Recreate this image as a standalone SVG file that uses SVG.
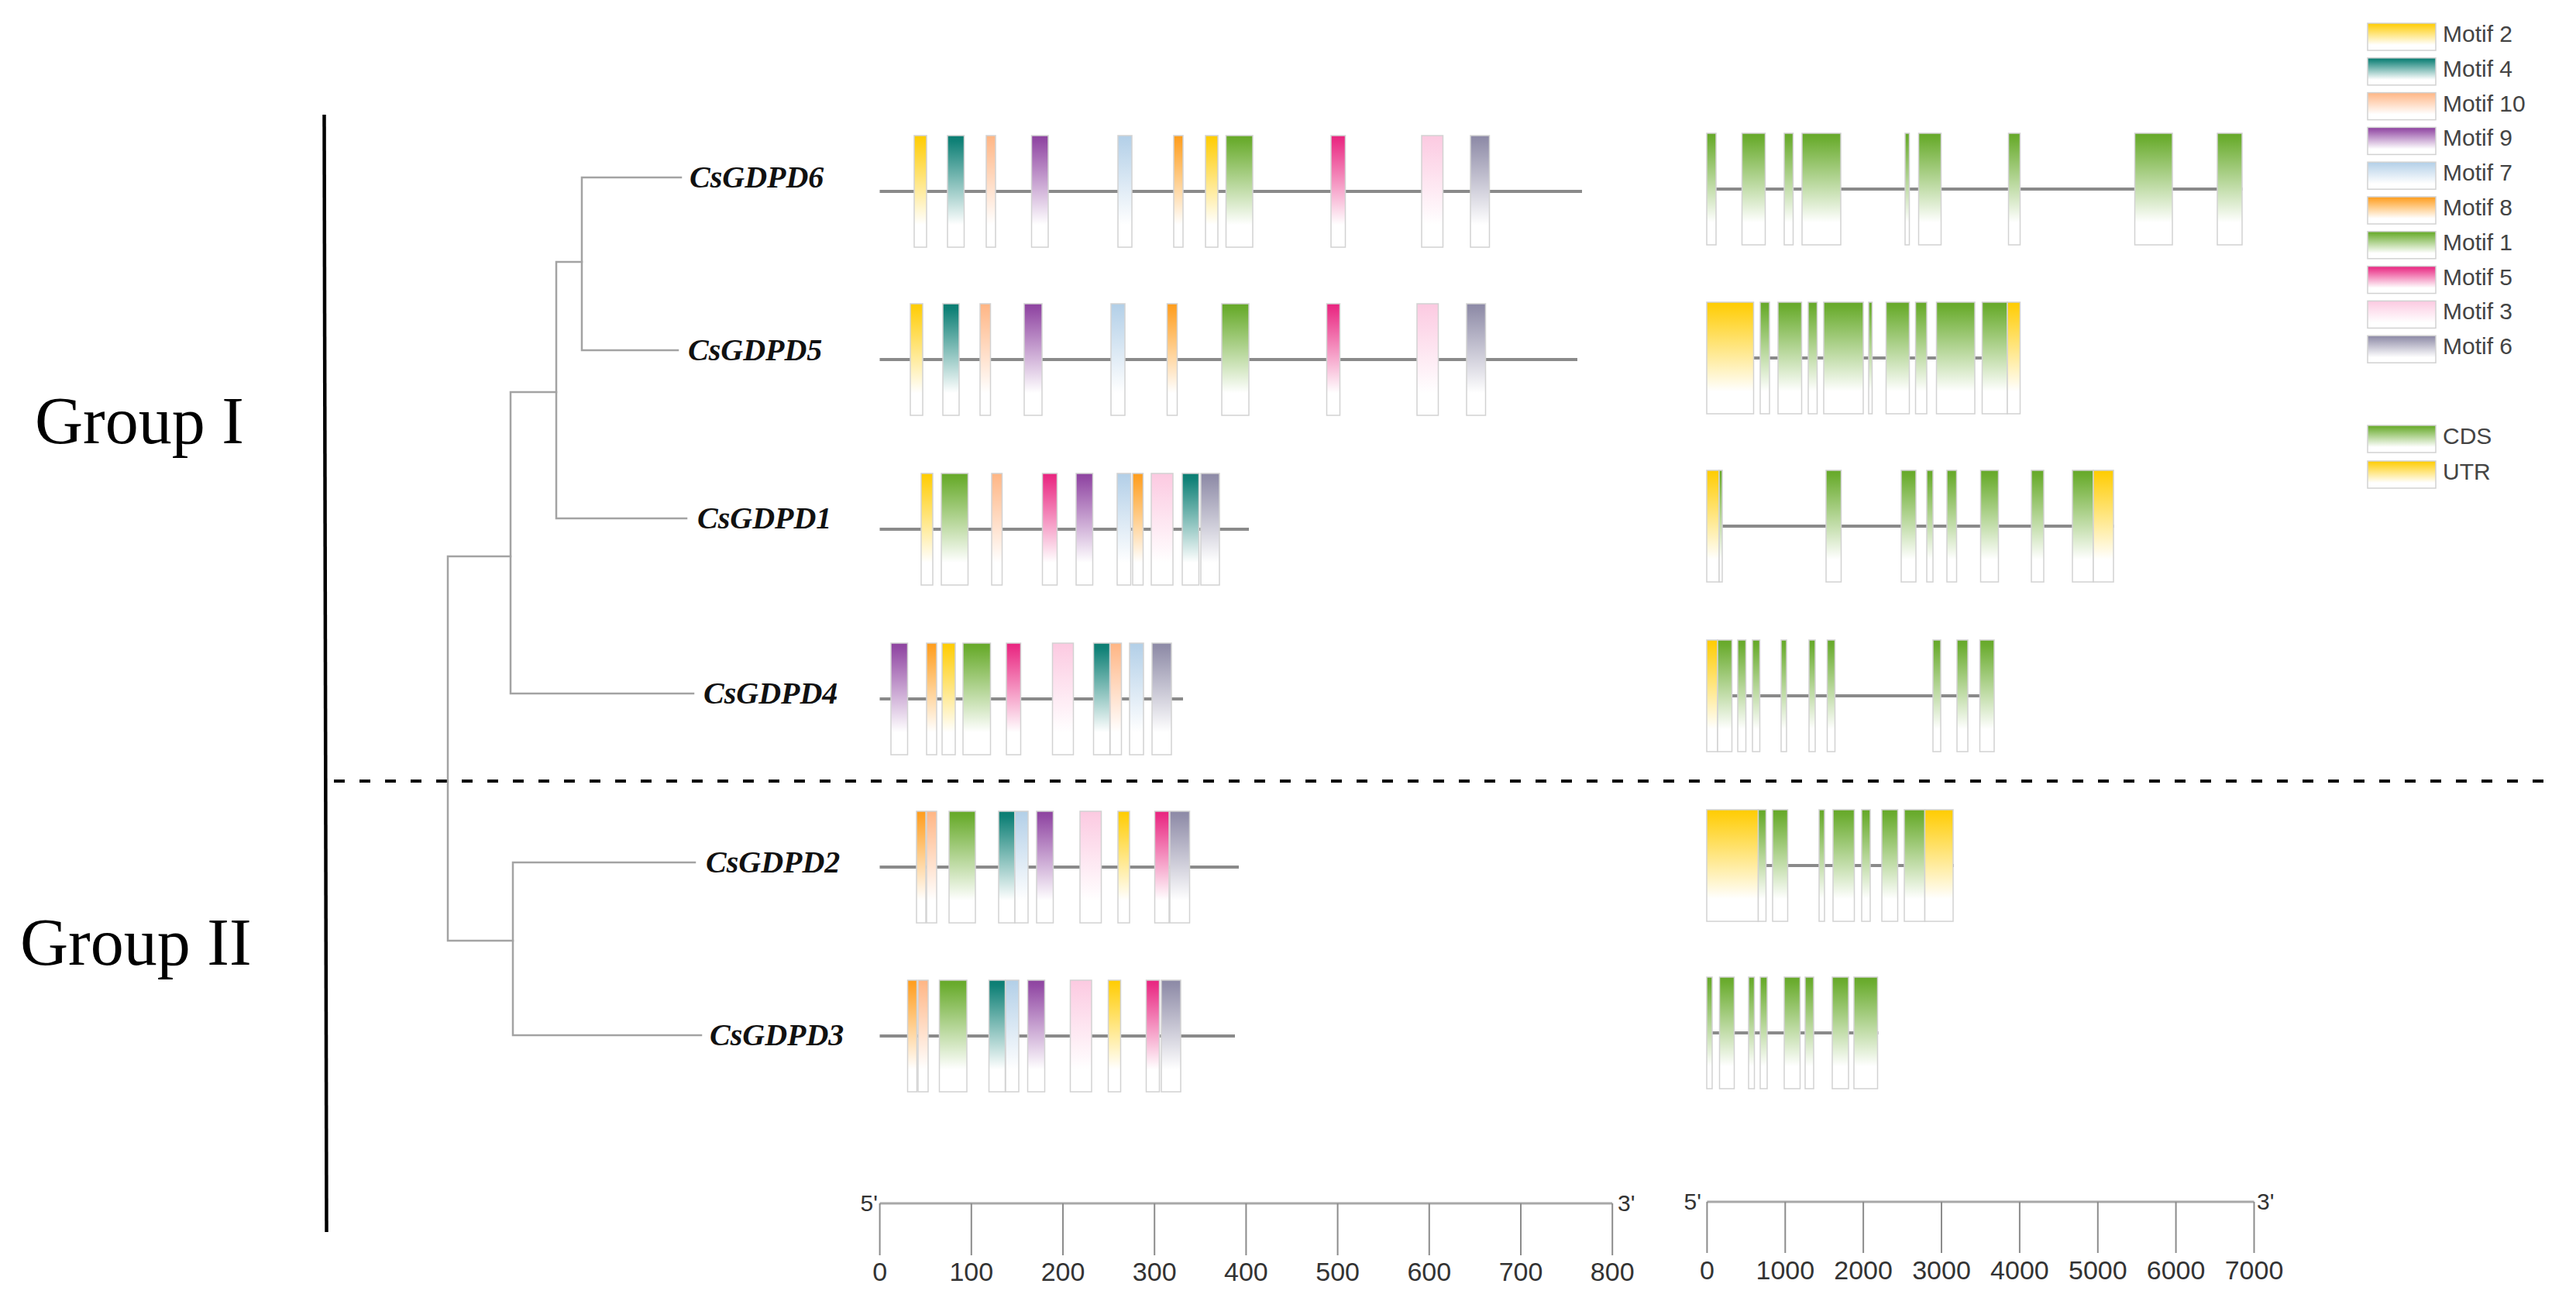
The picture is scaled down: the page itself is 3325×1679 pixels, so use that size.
<svg xmlns="http://www.w3.org/2000/svg" width="3325" height="1679" viewBox="0 0 3325 1679">
<style>
.bg{fill:#ffffff}
.tree{stroke:#a3a3a3;stroke-width:2.5;fill:none;stroke-linecap:square}
.gl{stroke:#8a8a8a;stroke-width:4}
.bx{stroke:#d2d2d2;stroke-width:1.5}
.lbl{font-family:"Liberation Serif","Times New Roman",serif;font-style:italic;font-weight:bold;font-size:40px;fill:#111}
.grp{font-family:"Liberation Serif","Times New Roman",serif;font-size:86px;fill:#000}
.ax{font-family:"Liberation Sans",Arial,sans-serif;font-size:34px;fill:#333}
.end{font-family:"Liberation Sans",Arial,sans-serif;font-size:30px;fill:#333}
.leg{font-family:"Liberation Sans",Arial,sans-serif;font-size:30px;fill:#444}
.sl{stroke:#a8a8a8;stroke-width:3}
.tk{stroke:#8c8c8c;stroke-width:2}
.m1{fill:url(#g1)}.m2{fill:url(#g2)}.m3{fill:url(#g3)}.m4{fill:url(#g4)}.m5{fill:url(#g5)}
.m6{fill:url(#g6)}.m7{fill:url(#g7)}.m8{fill:url(#g8)}.m9{fill:url(#g9)}.m10{fill:url(#g10)}
.cds{fill:url(#g1)}.utr{fill:url(#g2)}
</style>
<defs>
<linearGradient id="g1" x1="0" y1="0" x2="0" y2="1"><stop offset="0" stop-color="#66a829"/><stop offset="0.05" stop-color="#6cad31"/><stop offset="0.8" stop-color="#ffffff"/></linearGradient>
<linearGradient id="g2" x1="0" y1="0" x2="0" y2="1"><stop offset="0" stop-color="#ffcc00"/><stop offset="0.05" stop-color="#ffcf10"/><stop offset="0.8" stop-color="#ffffff"/></linearGradient>
<linearGradient id="g3" x1="0" y1="0" x2="0" y2="1"><stop offset="0" stop-color="#fbc9e0"/><stop offset="0.05" stop-color="#fccde3"/><stop offset="0.8" stop-color="#ffffff"/></linearGradient>
<linearGradient id="g4" x1="0" y1="0" x2="0" y2="1"><stop offset="0" stop-color="#0b7d72"/><stop offset="0.05" stop-color="#108177"/><stop offset="0.8" stop-color="#ffffff"/></linearGradient>
<linearGradient id="g5" x1="0" y1="0" x2="0" y2="1"><stop offset="0" stop-color="#e8247f"/><stop offset="0.05" stop-color="#ea2f86"/><stop offset="0.8" stop-color="#ffffff"/></linearGradient>
<linearGradient id="g6" x1="0" y1="0" x2="0" y2="1"><stop offset="0" stop-color="#8c89a6"/><stop offset="0.05" stop-color="#928faa"/><stop offset="0.8" stop-color="#ffffff"/></linearGradient>
<linearGradient id="g7" x1="0" y1="0" x2="0" y2="1"><stop offset="0" stop-color="#b2cfe7"/><stop offset="0.05" stop-color="#b7d2e9"/><stop offset="0.8" stop-color="#ffffff"/></linearGradient>
<linearGradient id="g8" x1="0" y1="0" x2="0" y2="1"><stop offset="0" stop-color="#ff9d1c"/><stop offset="0.05" stop-color="#ffa228"/><stop offset="0.8" stop-color="#ffffff"/></linearGradient>
<linearGradient id="g9" x1="0" y1="0" x2="0" y2="1"><stop offset="0" stop-color="#8d449f"/><stop offset="0.05" stop-color="#934ba5"/><stop offset="0.8" stop-color="#ffffff"/></linearGradient>
<linearGradient id="g10" x1="0" y1="0" x2="0" y2="1"><stop offset="0" stop-color="#ffb583"/><stop offset="0.05" stop-color="#ffba8c"/><stop offset="0.8" stop-color="#ffffff"/></linearGradient>
</defs>
<rect class="bg" x="0" y="0" width="3325" height="1679"/>

<g id="group-divider">
<line x1="418.5" y1="148" x2="421.5" y2="1590" stroke="#000" stroke-width="4.5"/>
<line x1="431" y1="1008" x2="3300" y2="1008" stroke="#000" stroke-width="4" stroke-dasharray="14 19"/>
<text class="grp" x="45" y="572">Group I</text>
<text class="grp" x="26" y="1245">Group II</text>
</g>

<g id="connectors">
<path class="tree" d="M751 229H879M751 452H875M751 229V452"/>
<path class="tree" d="M718 338H751M718 669H886M718 338V669"/>
<path class="tree" d="M659 506H718M659 895H895M659 506V895"/>
<path class="tree" d="M662 1113H897M662 1336H905M662 1113V1336"/>
<path class="tree" d="M578 718H659M578 1214H662M578 718V1214"/>
</g>

<g id="labels">
<text id="lab-CsGDPD6" class="lbl" x="890" y="242">CsGDPD6</text>
<text id="lab-CsGDPD5" class="lbl" x="888" y="465">CsGDPD5</text>
<text id="lab-CsGDPD1" class="lbl" x="900" y="682">CsGDPD1</text>
<text id="lab-CsGDPD4" class="lbl" x="908" y="908">CsGDPD4</text>
<text id="lab-CsGDPD2" class="lbl" x="911" y="1126">CsGDPD2</text>
<text id="lab-CsGDPD3" class="lbl" x="916" y="1349">CsGDPD3</text>
</g>

<g id="motif-CsGDPD6" transform="translate(0,247)">
<line class="gl" x1="1135.5" y1="0" x2="2042" y2="0"/>
<rect class="bx m2" x="1180" y="-72" width="16" height="144"/>
<rect class="bx m4" x="1223" y="-72" width="21.5" height="144"/>
<rect class="bx m10" x="1273" y="-72" width="12" height="144"/>
<rect class="bx m9" x="1331.5" y="-72" width="21.5" height="144"/>
<rect class="bx m7" x="1443" y="-72" width="18" height="144"/>
<rect class="bx m8" x="1515" y="-72" width="12" height="144"/>
<rect class="bx m2" x="1556" y="-72" width="16" height="144"/>
<rect class="bx m1" x="1582.5" y="-72" width="34.5" height="144"/>
<rect class="bx m5" x="1718" y="-72" width="18.5" height="144"/>
<rect class="bx m3" x="1835" y="-72" width="27.5" height="144"/>
<rect class="bx m6" x="1898" y="-72" width="24.5" height="144"/>
</g>
<g id="motif-CsGDPD5" transform="translate(0,464)">
<line class="gl" x1="1135.5" y1="0" x2="2036" y2="0"/>
<rect class="bx m2" x="1175" y="-72" width="16" height="144"/>
<rect class="bx m4" x="1217" y="-72" width="21" height="144"/>
<rect class="bx m10" x="1265" y="-72" width="13.5" height="144"/>
<rect class="bx m9" x="1322" y="-72" width="23" height="144"/>
<rect class="bx m7" x="1434" y="-72" width="18" height="144"/>
<rect class="bx m8" x="1506.5" y="-72" width="13" height="144"/>
<rect class="bx m1" x="1577" y="-72" width="35" height="144"/>
<rect class="bx m5" x="1712.5" y="-72" width="17" height="144"/>
<rect class="bx m3" x="1829" y="-72" width="27.5" height="144"/>
<rect class="bx m6" x="1893" y="-72" width="24.5" height="144"/>
</g>
<g id="motif-CsGDPD1" transform="translate(0,683)">
<line class="gl" x1="1135.5" y1="0" x2="1612" y2="0"/>
<rect class="bx m2" x="1189" y="-72" width="15" height="144"/>
<rect class="bx m1" x="1215" y="-72" width="34.5" height="144"/>
<rect class="bx m10" x="1280" y="-72" width="13.5" height="144"/>
<rect class="bx m5" x="1345.5" y="-72" width="19" height="144"/>
<rect class="bx m9" x="1389" y="-72" width="21.5" height="144"/>
<rect class="bx m7" x="1442" y="-72" width="17.5" height="144"/>
<rect class="bx m8" x="1462" y="-72" width="13.5" height="144"/>
<rect class="bx m3" x="1486" y="-72" width="28" height="144"/>
<rect class="bx m4" x="1526" y="-72" width="21.5" height="144"/>
<rect class="bx m6" x="1550" y="-72" width="24" height="144"/>
</g>
<g id="motif-CsGDPD4" transform="translate(0,902)">
<line class="gl" x1="1135.5" y1="0" x2="1527" y2="0"/>
<rect class="bx m9" x="1150" y="-72" width="21.5" height="144"/>
<rect class="bx m8" x="1196" y="-72" width="13" height="144"/>
<rect class="bx m2" x="1216" y="-72" width="17" height="144"/>
<rect class="bx m1" x="1243" y="-72" width="35.5" height="144"/>
<rect class="bx m5" x="1299" y="-72" width="18.5" height="144"/>
<rect class="bx m3" x="1358.5" y="-72" width="27" height="144"/>
<rect class="bx m4" x="1411.5" y="-72" width="21" height="144"/>
<rect class="bx m10" x="1433" y="-72" width="14.5" height="144"/>
<rect class="bx m7" x="1458" y="-72" width="18" height="144"/>
<rect class="bx m6" x="1487" y="-72" width="25" height="144"/>
</g>
<g id="motif-CsGDPD2" transform="translate(0,1119)">
<line class="gl" x1="1135.5" y1="0" x2="1599" y2="0"/>
<rect class="bx m8" x="1183" y="-72" width="12" height="144"/>
<rect class="bx m10" x="1196" y="-72" width="13" height="144"/>
<rect class="bx m1" x="1225" y="-72" width="34" height="144"/>
<rect class="bx m4" x="1289" y="-72" width="21" height="144"/>
<rect class="bx m7" x="1310" y="-72" width="17" height="144"/>
<rect class="bx m9" x="1338" y="-72" width="21.5" height="144"/>
<rect class="bx m3" x="1394" y="-72" width="27.5" height="144"/>
<rect class="bx m2" x="1443" y="-72" width="15" height="144"/>
<rect class="bx m5" x="1490.5" y="-72" width="18.5" height="144"/>
<rect class="bx m6" x="1510" y="-72" width="25.5" height="144"/>
</g>
<g id="motif-CsGDPD3" transform="translate(0,1337)">
<line class="gl" x1="1135.5" y1="0" x2="1594" y2="0"/>
<rect class="bx m8" x="1171.5" y="-72" width="12" height="144"/>
<rect class="bx m10" x="1185" y="-72" width="13" height="144"/>
<rect class="bx m1" x="1212.5" y="-72" width="35.5" height="144"/>
<rect class="bx m4" x="1276.5" y="-72" width="21" height="144"/>
<rect class="bx m7" x="1298" y="-72" width="17" height="144"/>
<rect class="bx m9" x="1326.5" y="-72" width="22" height="144"/>
<rect class="bx m3" x="1381.5" y="-72" width="27.5" height="144"/>
<rect class="bx m2" x="1430.5" y="-72" width="16" height="144"/>
<rect class="bx m5" x="1479.5" y="-72" width="17" height="144"/>
<rect class="bx m6" x="1499" y="-72" width="25" height="144"/>
</g>

<g id="gene-CsGDPD6" transform="translate(0,244)">
<line class="gl" x1="2203" y1="0" x2="2894.5" y2="0"/>
<rect class="bx cds" x="2203" y="-72" width="12" height="144"/>
<rect class="bx cds" x="2248.5" y="-72" width="30" height="144"/>
<rect class="bx cds" x="2303" y="-72" width="11.5" height="144"/>
<rect class="bx cds" x="2326" y="-72" width="50" height="144"/>
<rect class="bx cds" x="2459" y="-72" width="5.5" height="144"/>
<rect class="bx cds" x="2476.5" y="-72" width="29" height="144"/>
<rect class="bx cds" x="2592.5" y="-72" width="15" height="144"/>
<rect class="bx cds" x="2755.5" y="-72" width="48.5" height="144"/>
<rect class="bx cds" x="2862" y="-72" width="32" height="144"/>
</g>
<g id="gene-CsGDPD5" transform="translate(0,462)">
<line class="gl" x1="2203" y1="0" x2="2608" y2="0"/>
<rect class="bx utr" x="2203" y="-72" width="60.5" height="144"/>
<rect class="bx cds" x="2272" y="-72" width="12" height="144"/>
<rect class="bx cds" x="2295" y="-72" width="30.5" height="144"/>
<rect class="bx cds" x="2334" y="-72" width="11.5" height="144"/>
<rect class="bx cds" x="2354" y="-72" width="51" height="144"/>
<rect class="bx cds" x="2412" y="-72" width="4.5" height="144"/>
<rect class="bx cds" x="2434.5" y="-72" width="30" height="144"/>
<rect class="bx cds" x="2472.5" y="-72" width="14.5" height="144"/>
<rect class="bx cds" x="2499.5" y="-72" width="49.5" height="144"/>
<rect class="bx cds" x="2558.5" y="-72" width="32.5" height="144"/>
<rect class="bx utr" x="2591" y="-72" width="16.5" height="144"/>
</g>
<g id="gene-CsGDPD1" transform="translate(0,679)">
<line class="gl" x1="2203" y1="0" x2="2728.5" y2="0"/>
<rect class="bx utr" x="2203" y="-72" width="16" height="144"/>
<rect class="bx cds" x="2219" y="-72" width="4" height="144"/>
<rect class="bx cds" x="2357" y="-72" width="19.5" height="144"/>
<rect class="bx cds" x="2454" y="-72" width="19" height="144"/>
<rect class="bx cds" x="2487" y="-72" width="8" height="144"/>
<rect class="bx cds" x="2513" y="-72" width="12.5" height="144"/>
<rect class="bx cds" x="2556.5" y="-72" width="23" height="144"/>
<rect class="bx cds" x="2622" y="-72" width="16" height="144"/>
<rect class="bx cds" x="2675" y="-72" width="27" height="144"/>
<rect class="bx utr" x="2702" y="-72" width="26" height="144"/>
</g>
<g id="gene-CsGDPD4" transform="translate(0,898)">
<line class="gl" x1="2203" y1="0" x2="2574" y2="0"/>
<rect class="bx utr" x="2203" y="-72" width="14" height="144"/>
<rect class="bx cds" x="2217" y="-72" width="18.5" height="144"/>
<rect class="bx cds" x="2243" y="-72" width="10.5" height="144"/>
<rect class="bx cds" x="2262" y="-72" width="9.5" height="144"/>
<rect class="bx cds" x="2299" y="-72" width="7" height="144"/>
<rect class="bx cds" x="2335" y="-72" width="8" height="144"/>
<rect class="bx cds" x="2358.5" y="-72" width="10" height="144"/>
<rect class="bx cds" x="2495" y="-72" width="10" height="144"/>
<rect class="bx cds" x="2526" y="-72" width="14" height="144"/>
<rect class="bx cds" x="2555.5" y="-72" width="18.5" height="144"/>
</g>
<g id="gene-CsGDPD2" transform="translate(0,1117)">
<line class="gl" x1="2203" y1="0" x2="2522" y2="0"/>
<rect class="bx utr" x="2203" y="-72" width="66.5" height="144"/>
<rect class="bx cds" x="2269.5" y="-72" width="10" height="144"/>
<rect class="bx cds" x="2288" y="-72" width="19.5" height="144"/>
<rect class="bx cds" x="2348" y="-72" width="7" height="144"/>
<rect class="bx cds" x="2366" y="-72" width="27.5" height="144"/>
<rect class="bx cds" x="2403" y="-72" width="11" height="144"/>
<rect class="bx cds" x="2429" y="-72" width="20.5" height="144"/>
<rect class="bx cds" x="2458" y="-72" width="26.5" height="144"/>
<rect class="bx utr" x="2484.5" y="-72" width="36.5" height="144"/>
</g>
<g id="gene-CsGDPD3" transform="translate(0,1333)">
<line class="gl" x1="2203" y1="0" x2="2424.5" y2="0"/>
<rect class="bx cds" x="2203" y="-72" width="7" height="144"/>
<rect class="bx cds" x="2219.5" y="-72" width="19" height="144"/>
<rect class="bx cds" x="2257" y="-72" width="7.5" height="144"/>
<rect class="bx cds" x="2272" y="-72" width="9" height="144"/>
<rect class="bx cds" x="2303" y="-72" width="20.5" height="144"/>
<rect class="bx cds" x="2330" y="-72" width="11" height="144"/>
<rect class="bx cds" x="2365" y="-72" width="21" height="144"/>
<rect class="bx cds" x="2393" y="-72" width="30.5" height="144"/>
</g>

<g id="scale-aa">
<line class="sl" x1="1135.6" y1="1553" x2="2081.2" y2="1553"/>
<g class="tk">
<line x1="1135.6" y1="1553" x2="1135.6" y2="1620"/><line x1="1253.8" y1="1553" x2="1253.8" y2="1620"/><line x1="1372" y1="1553" x2="1372" y2="1620"/><line x1="1490.2" y1="1553" x2="1490.2" y2="1620"/><line x1="1608.4" y1="1553" x2="1608.4" y2="1620"/><line x1="1726.6" y1="1553" x2="1726.6" y2="1620"/><line x1="1844.8" y1="1553" x2="1844.8" y2="1620"/><line x1="1963" y1="1553" x2="1963" y2="1620"/><line x1="2081.2" y1="1553" x2="2081.2" y2="1620"/>
</g>
<text class="end" x="1133" y="1563" text-anchor="end">5'</text>
<text class="end" x="2088" y="1563">3'</text>
<g class="ax" text-anchor="middle">
<text x="1135.6" y="1653">0</text><text x="1253.8" y="1653">100</text><text x="1372" y="1653">200</text><text x="1490.2" y="1653">300</text><text x="1608.4" y="1653">400</text><text x="1726.6" y="1653">500</text><text x="1844.8" y="1653">600</text><text x="1963" y="1653">700</text><text x="2081.2" y="1653">800</text>
</g>
</g>

<g id="scale-bp">
<line class="sl" x1="2203.4" y1="1551" x2="2909.5" y2="1551"/>
<g class="tk">
<line x1="2203.4" y1="1551" x2="2203.4" y2="1617"/><line x1="2304.3" y1="1551" x2="2304.3" y2="1617"/><line x1="2405.1" y1="1551" x2="2405.1" y2="1617"/><line x1="2506" y1="1551" x2="2506" y2="1617"/><line x1="2606.9" y1="1551" x2="2606.9" y2="1617"/><line x1="2707.8" y1="1551" x2="2707.8" y2="1617"/><line x1="2808.6" y1="1551" x2="2808.6" y2="1617"/><line x1="2909.5" y1="1551" x2="2909.5" y2="1617"/>
</g>
<text class="end" x="2196" y="1561" text-anchor="end">5'</text>
<text class="end" x="2913" y="1561">3'</text>
<g class="ax" text-anchor="middle">
<text x="2203.4" y="1651">0</text><text x="2304.3" y="1651">1000</text><text x="2405.1" y="1651">2000</text><text x="2506" y="1651">3000</text><text x="2606.9" y="1651">4000</text><text x="2707.8" y="1651">5000</text><text x="2808.6" y="1651">6000</text><text x="2909.5" y="1651">7000</text>
</g>
</g>

<g id="legend">
<rect class="bx m2" x="3056" y="30" width="88" height="35"/><text class="leg" x="3153" y="54">Motif 2</text>
<rect class="bx m4" x="3056" y="74.8" width="88" height="35"/><text class="leg" x="3153" y="98.8">Motif 4</text>
<rect class="bx m10" x="3056" y="119.6" width="88" height="35"/><text class="leg" x="3153" y="143.6">Motif 10</text>
<rect class="bx m9" x="3056" y="164.4" width="88" height="35"/><text class="leg" x="3153" y="188.4">Motif 9</text>
<rect class="bx m7" x="3056" y="209.2" width="88" height="35"/><text class="leg" x="3153" y="233.2">Motif 7</text>
<rect class="bx m8" x="3056" y="254" width="88" height="35"/><text class="leg" x="3153" y="278">Motif 8</text>
<rect class="bx m1" x="3056" y="298.8" width="88" height="35"/><text class="leg" x="3153" y="322.8">Motif 1</text>
<rect class="bx m5" x="3056" y="343.6" width="88" height="35"/><text class="leg" x="3153" y="367.6">Motif 5</text>
<rect class="bx m3" x="3056" y="388.4" width="88" height="35"/><text class="leg" x="3153" y="412.4">Motif 3</text>
<rect class="bx m6" x="3056" y="433.2" width="88" height="35"/><text class="leg" x="3153" y="457.2">Motif 6</text>
<rect class="bx cds" x="3056" y="549" width="88" height="35"/><text class="leg" x="3153" y="573">CDS</text>
<rect class="bx utr" x="3056" y="595" width="88" height="35"/><text class="leg" x="3153" y="619">UTR</text>
</g>
</svg>
